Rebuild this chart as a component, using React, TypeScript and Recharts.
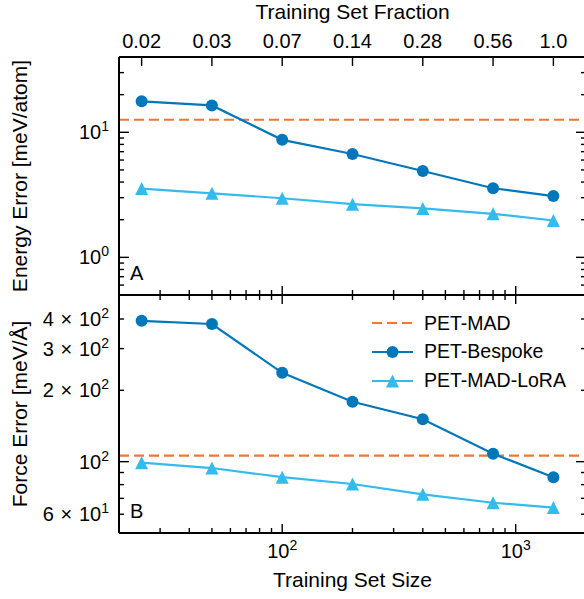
import { ComposedChart, Line, XAxis, YAxis, ReferenceLine, Legend } from "recharts"

const FONT = '"Liberation Sans", Arial, Helvetica, sans-serif'

const BLUE   = "#0077BB"
const CYAN   = "#33BBEE"
const ORANGE = "#EE7733"

// training set sizes and the fraction labels on the top axis
const trainingSizes  = [25, 50, 100, 200, 400, 800, 1450]
const fractionLabels = ["0.02", "0.03", "0.07", "0.14", "0.28", "0.56", "1.0"]

// panel A: energy error [meV/atom]
const energyBespoke = [17.7, 16.4, 8.7, 6.7, 4.9, 3.57, 3.09]
const energyLora    = [3.55, 3.25, 2.97, 2.66, 2.46, 2.23, 1.97]
const energyPetMad  = 12.6

// panel B: force error [meV/Å]
const forceBespoke = [393, 381, 237, 179, 151, 108, 86]
const forceLora    = [99, 94, 86, 80.5, 72.8, 67.1, 64]
const forcePetMad  = 106

const sizeTicks  = [30, 40, 50, 60, 70, 80, 90, 100, 200, 300, 400, 500, 600, 700, 800, 900, 1000]
const sizeMajors = [100, 1000]
const sizeLabels: Record<number, [string, string]> = { 100: ["10", "2"], 1000: ["10", "3"] }

const energyTicks  = [0.6, 0.7, 0.8, 0.9, 1, 2, 3, 4, 5, 6, 7, 8, 9, 10, 20, 30]
const energyMajors = [1, 10]
const energyLabels: Record<number, [string, string]> = { 1: ["10", "0"], 10: ["10", "1"] }

const forceTicks  = [60, 70, 80, 90, 100, 200, 300, 400]
const forceMajors = [100]
const forceLabels: Record<number, [string, string]> = {
  60:  ["6\u2004×\u200410", "1"],
  100: ["10", "2"],
  200: ["2\u2004×\u200410", "2"],
  300: ["3\u2004×\u200410", "2"],
  400: ["4\u2004×\u200410", "2"],
}

const rows = trainingSizes.map((size, i) => ({
  size,
  energyBespoke: energyBespoke[i],
  energyLora:    energyLora[i],
  forceBespoke:  forceBespoke[i],
  forceLora:     forceLora[i],
}))

const legendItems = [
  { name: "PET-MAD",      color: ORANGE, dashed: true,  marker: "none" },
  { name: "PET-Bespoke",  color: BLUE,   dashed: false, marker: "circle" },
  { name: "PET-MAD-LoRA", color: CYAN,   dashed: false, marker: "triangle" },
]

const triPoints = (cx: number, cy: number, h: number) =>
  `${cx},${cy - h} ${cx - h},${cy + h} ${cx + h},${cy + h}`

const TriangleDot = (p: any) => {
  if (p.cx == null || p.cy == null) return <g key={p.index} />
  return <polygon key={p.index} points={triPoints(p.cx, p.cy, 6.5)} fill={CYAN} />
}

const supText = (x: number, y: number, lab: [string, string], anchor: string, dy: number) => (
  <text x={x} y={y} dy={dy} textAnchor={anchor} fontSize={20} fontFamily={FONT} fill="#000">
    {lab[0]}
    <tspan dy={-8} fontSize={14}>{lab[1]}</tspan>
  </text>
)

function yTick(side: "left" | "right", majors: number[], labels?: Record<number, [string, string]>) {
  return (props: any) => {
    const { x, y, payload } = props
    const v = payload.value
    const len = majors.includes(v) ? 10 : 5
    const dir = side === "left" ? 1 : -1
    const lab = side === "left" && labels ? labels[v] : undefined
    return (
      <g>
        <line x1={x} x2={x + dir * len} y1={y} y2={y} stroke="#000" strokeWidth={1.4} />
        {lab && supText(x - 10, y, lab, "end", 7)}
      </g>
    )
  }
}

function xTick(side: "top" | "bottom", majors: number[], labels?: Record<number, [string, string]>) {
  return (props: any) => {
    const { x, y, payload } = props
    const v = payload.value
    const len = majors.includes(v) ? 9 : 5
    const dir = side === "bottom" ? -1 : 1
    const lab = labels ? labels[v] : undefined
    return (
      <g>
        <line x1={x} x2={x} y1={y} y2={y + dir * len} stroke="#000" strokeWidth={1.4} />
        {lab && supText(x, y + 25, lab, "middle", 0)}
      </g>
    )
  }
}

const fractionTick = (props: any) => {
  const { x, y, index } = props
  return (
    <g>
      <line x1={x} x2={x} y1={y} y2={y + 9} stroke="#000" strokeWidth={1.4} />
      <text x={x} y={y - 9} textAnchor="middle" fontSize={20} fontFamily={FONT} fill="#000">
        {fractionLabels[index]}
      </text>
    </g>
  )
}

const LegendBox = () => (
  <div style={{ fontFamily: FONT, fontSize: 19.5, color: "#000" }}>
    {legendItems.map((it) => (
      <div key={it.name} style={{ display: "flex", alignItems: "center", height: 28.7 }}>
        <svg width={41} height={20}>
          <line x1={0} x2={41} y1={10} y2={10} stroke={it.color} strokeWidth={2.2}
            strokeDasharray={it.dashed ? "10 5" : undefined} />
          {it.marker === "circle" && <circle cx={20.5} cy={10} r={6} fill={it.color} />}
          {it.marker === "triangle" && <polygon points={triPoints(20.5, 10, 6.5)} fill={it.color} />}
        </svg>
        <span style={{ marginLeft: 11, lineHeight: 1 }}>{it.name}</span>
      </div>
    ))}
  </div>
)

const axisLine = { stroke: "#000", strokeWidth: 2 }

export default function App() {
  return (
    <div style={{ position: "absolute", left: 0, top: 0, width: 584, height: 599, overflow: "hidden", background: "#fff", fontFamily: FONT }}>
      {/* panel A */}
      <div style={{ position: "absolute", left: 0, top: 0 }}>
        <ComposedChart width={600} height={300} data={rows} margin={{ top: 0, right: 0, bottom: 0, left: 0 }}>
          <XAxis xAxisId="frac" orientation="top" dataKey="size" type="number" scale="log"
            domain={[20, 2000]} allowDataOverflow ticks={trainingSizes} interval={0}
            height={57} tickSize={0} tickMargin={0} tickLine={false} axisLine={axisLine}
            tick={fractionTick}
            label={{ value: "Training Set Fraction", position: "insideTop", offset: 4, fontSize: 21, fill: "#000", fontFamily: FONT }} />
          <XAxis xAxisId="size" dataKey="size" type="number" scale="log"
            domain={[20, 2000]} allowDataOverflow ticks={sizeTicks} interval={0}
            height={5} tickSize={0} tickMargin={0} tickLine={false} axisLine={axisLine}
            tick={xTick("bottom", sizeMajors)} />
          <YAxis yAxisId="e" type="number" scale="log" domain={[0.5, 40]} allowDataOverflow
            ticks={energyTicks} interval={0} width={119} tickSize={0} tickMargin={0} tickLine={false}
            axisLine={axisLine} tick={yTick("left", energyMajors, energyLabels)}
            label={{ value: "Energy Error [meV/atom]", angle: -90, position: "insideLeft", offset: 20, fontSize: 21, fill: "#000", fontFamily: FONT, style: { textAnchor: "middle" } }} />
          <YAxis yAxisId="eR" orientation="right" type="number" scale="log" domain={[0.5, 40]} allowDataOverflow
            ticks={energyTicks} interval={0} width={14} tickSize={0} tickMargin={0} tickLine={false}
            axisLine={axisLine} tick={yTick("right", energyMajors)} />

          <ReferenceLine xAxisId="size" yAxisId="e" y={energyPetMad} stroke={ORANGE} strokeWidth={2.2} strokeDasharray="10 5" />
          <Line xAxisId="size" yAxisId="e" type="linear" dataKey="energyBespoke" stroke={BLUE} strokeWidth={2.2}
            dot={{ r: 6, fill: BLUE, stroke: "none" }} activeDot={false} isAnimationActive={false} />
          <Line xAxisId="size" yAxisId="e" type="linear" dataKey="energyLora" stroke={CYAN} strokeWidth={2.2}
            dot={TriangleDot} activeDot={false} isAnimationActive={false} />
          <Line xAxisId="frac" yAxisId="eR" dataKey="energyLora" stroke="none" dot={false} activeDot={false}
            legendType="none" isAnimationActive={false} />
        </ComposedChart>
      </div>

      {/* panel B */}
      <div style={{ position: "absolute", left: 0, top: 285 }}>
        <ComposedChart width={600} height={314} data={rows} margin={{ top: 0, right: 0, bottom: 0, left: 0 }}>
          <XAxis xAxisId="sizeTop" orientation="top" dataKey="size" type="number" scale="log"
            domain={[20, 2000]} allowDataOverflow ticks={sizeTicks} interval={0}
            height={10} tickSize={0} tickMargin={0} tickLine={false} axisLine={axisLine}
            tick={xTick("top", sizeMajors)} />
          <XAxis xAxisId="size" dataKey="size" type="number" scale="log"
            domain={[20, 2000]} allowDataOverflow ticks={sizeTicks} interval={0}
            height={66} tickSize={0} tickMargin={0} tickLine={false} axisLine={axisLine}
            tick={xTick("bottom", sizeMajors, sizeLabels)}
            label={{ value: "Training Set Size", position: "insideBottom", offset: 12, fontSize: 21, fill: "#000", fontFamily: FONT }} />
          <YAxis yAxisId="f" type="number" scale="log" domain={[50, 505]} allowDataOverflow
            ticks={forceTicks} interval={0} width={119} tickSize={0} tickMargin={0} tickLine={false}
            axisLine={axisLine} tick={yTick("left", forceMajors, forceLabels)}
            label={{ value: "Force Error [meV/Å]", angle: -90, position: "insideLeft", offset: 20, fontSize: 21, fill: "#000", fontFamily: FONT, style: { textAnchor: "middle" } }} />
          <YAxis yAxisId="fR" orientation="right" type="number" scale="log" domain={[50, 505]} allowDataOverflow
            ticks={forceTicks} interval={0} width={14} tickSize={0} tickMargin={0} tickLine={false}
            axisLine={axisLine} tick={yTick("right", forceMajors)} />

          <ReferenceLine xAxisId="size" yAxisId="f" y={forcePetMad} stroke={ORANGE} strokeWidth={2.2} strokeDasharray="10 5" />
          <Line xAxisId="size" yAxisId="f" type="linear" dataKey="forceBespoke" stroke={BLUE} strokeWidth={2.2}
            dot={{ r: 6, fill: BLUE, stroke: "none" }} activeDot={false} isAnimationActive={false} />
          <Line xAxisId="size" yAxisId="f" type="linear" dataKey="forceLora" stroke={CYAN} strokeWidth={2.2}
            dot={TriangleDot} activeDot={false} isAnimationActive={false} />
          <Line xAxisId="sizeTop" yAxisId="fR" dataKey="forceLora" stroke="none" dot={false} activeDot={false}
            legendType="none" isAnimationActive={false} />

          <Legend layout="vertical" align="center" verticalAlign="middle" content={LegendBox}
            wrapperStyle={{ left: 372, top: 24, width: 220, height: 90, bottom: "auto", right: "auto" }} />
        </ComposedChart>
      </div>

      <div style={{ position: "absolute", left: 130, top: 263, fontSize: 20, lineHeight: "20px" }}>A</div>
      <div style={{ position: "absolute", left: 130, top: 501, fontSize: 20, lineHeight: "20px" }}>B</div>
    </div>
  )
}
